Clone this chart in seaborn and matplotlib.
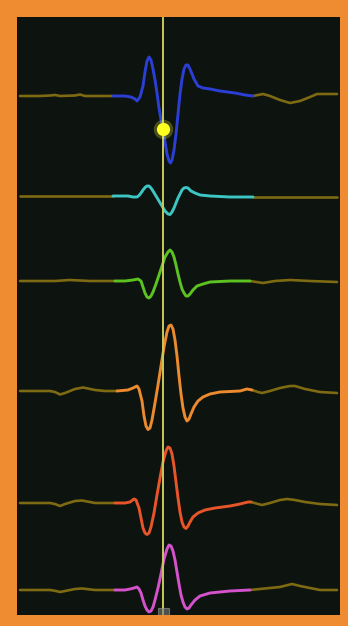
import numpy as np
import pandas as pd
import matplotlib
matplotlib.use("Agg")
import matplotlib.pyplot as plt
import seaborn as sns
from matplotlib.patches import Rectangle

# channel baselines (screen units, top = small) and colours
channels = ["ch1", "ch2", "ch3", "ch4", "ch5", "ch6"]
baselines = [96, 196, 281, 391, 503, 590]
colors = ["#2b3fd6", "#3cc6c4", "#5cc222", "#eb8a2e", "#e8552a", "#d452cc"]
base_color = "#7d6a12"

# colored window (start, end) per channel
win_start = [113, 113, 115, 117, 115, 115]
win_end = [253, 253, 250, 252, 251, 250]

# waveforms: time, amplitude (up = positive)
t1 = [20, 40, 50, 55, 60, 75, 80, 85, 113, 125, 131, 135, 137, 140, 143, 145, 147, 149, 151, 153, 155, 157, 159, 161, 163, 165, 167, 169, 170.5, 172, 174, 176, 178, 180, 182, 184, 186, 188, 190, 194, 198, 203, 210, 220, 235, 245, 253, 258, 263, 270, 280, 290, 300, 310, 317, 330, 337]
a1 = [0, 0, 0.5, 1, 0, 0.5, 1.5, 0, 0, 0, -1, -3, -5, -1, 10, 24, 35, 39, 36, 27, 16, 3, -12, -24, -33, -46, -58, -65, -67, -64, -54, -38, -18, 2, 17, 27, 31, 31, 27, 17, 10, 8, 7, 5, 3, 1, 0, 1, 2, 0, -4, -7, -5, -1, 2, 2, 2]

t2 = [20, 60, 90, 113, 128, 133, 137, 139, 141, 143, 145, 147, 149, 151, 153, 156, 159, 162, 165, 168, 170, 172, 174, 176, 178, 180, 182, 184, 186, 188, 191, 195, 200, 210, 230, 253, 290, 337]
a2 = [0, 0, 0, 0, 0, -1, -1, 0.5, 3, 6, 8.5, 10, 10, 8, 5, 0, -5, -10, -15, -18, -18.5, -16, -12, -7, -2, 2, 6, 8, 8.5, 8, 5, 3, 1, 0, -1, -1, -1, -1]

t3 = [20, 55, 70, 90, 115, 125, 133, 138, 141, 143, 145, 147, 149, 151, 153, 156, 159, 162, 165, 168, 170, 172, 174, 176, 178, 180, 182, 184, 186, 188, 190, 193, 197, 203, 210, 230, 250, 263, 275, 290, 310, 337]
a3 = [0, 0, 1, 0, 0, 0, 1, 2, 0, -6, -12, -16, -17, -15, -11, -3, 6, 15, 24, 29, 31, 29, 24, 16, 7, -1, -8, -12, -15, -15, -13, -9, -5, -3, -1, 0, 0, -2, 0, 1, 0, -1]

t4 = [20, 50, 55, 60, 65, 75, 83, 95, 105, 117, 128, 133, 137, 139, 142, 144, 146, 148, 150, 152, 155, 158, 161, 164, 167, 169, 171, 173, 175, 177, 179, 181, 183, 185, 187, 189, 191, 194, 198, 203, 210, 220, 240, 247, 252, 258, 262, 270, 280, 290, 295, 305, 320, 337]
a4 = [0, 0, -1, -3.5, -2, 2, 3.5, 1, 0, 0, 1, 3, 5, 2, -10, -25, -35, -38.5, -37, -29, -12, 6, 25, 44, 59, 65, 66, 62, 51, 35, 15, -3, -17, -26, -30, -28, -23, -16, -10, -6, -3, -1, 0, 2, 1, -1, -2, 0, 3, 5, 5, 2, -1, -2]

t5 = [20, 50, 55, 60, 65, 75, 82, 95, 115, 125, 130, 134, 136, 139, 141, 143, 145, 147, 149, 151, 154, 157, 160, 163, 166, 168, 170, 172, 174, 176, 178, 180, 182, 184, 186, 188, 190, 193, 198, 205, 215, 230, 240, 248, 251, 258, 262, 270, 280, 287, 295, 305, 320, 337]
a5 = [0, 0, -1, -3, -1, 2, 2.5, 0, 0, 0, 1, 4, 3, -5, -15, -25, -30, -31.5, -30, -24, -10, 8, 25, 41, 52, 56, 55, 49, 37, 21, 5, -9, -19, -24, -25.5, -23, -19, -14, -10, -7, -5, -3, -1, 1, 1, -1, -2, 0, 3, 4, 3, 1, -1, -2]

t6 = [20, 50, 56, 60, 65, 75, 82, 95, 115, 125, 130, 134, 137, 139, 141, 143, 145, 147, 149, 151, 153, 155, 158, 161, 164, 167, 169, 171, 173, 175, 177, 179, 181, 183, 185, 187, 189, 191, 195, 200, 210, 230, 250, 260, 270, 280, 292, 300, 310, 320, 337]
a6 = [0, 0, -1, -2, -1, 1, 1.5, 0, 0, 0, 1, 2, 3, 1, -3, -10, -16, -20, -22, -21, -17, -10, 2, 16, 31, 41, 45, 44, 39, 30, 18, 6, -5, -12, -17, -19, -18, -15, -10, -6, -3, -1, 0, 1, 2, 3, 6, 4, 2, 0, 0]

times = [t1, t2, t3, t4, t5, t6]
amps = [a1, a2, a3, a4, a5, a6]

# cursor
cursor_t = 163
marker_y = 129

rows = []
for ch, base, t, a, s, e in zip(channels, baselines, times, amps, win_start, win_end):
    for ti, ai in zip(t, a):
        seg = "pre" if ti < s else ("post" if ti > e else "win")
        rows.append({"channel": ch, "t": ti, "y": base - ai, "seg": seg})
        # duplicate boundary points so segments connect
        if ti == s:
            rows.append({"channel": ch, "t": ti, "y": base - ai, "seg": "pre"})
        if ti == e:
            rows.append({"channel": ch, "t": ti, "y": base - ai, "seg": "post"})
df = pd.DataFrame(rows)

sns.set_style("dark")
fig = plt.figure(figsize=(3.48, 6.26), dpi=100)
fig.patch.set_facecolor("#ef8b30")
ax = fig.add_axes([17 / 348, 11 / 626, 323 / 348, 598 / 626])
ax.set_facecolor("#0d130e")

for ch, col in zip(channels, colors):
    d = df[df.channel == ch]
    for seg in ["pre", "post"]:
        sns.lineplot(data=d[d.seg == seg], x="t", y="y", color=base_color, lw=1.9,
                     sort=False, estimator=None, ax=ax, legend=False,
                     solid_joinstyle="round", solid_capstyle="round")
    sns.lineplot(data=d[d.seg == "win"], x="t", y="y", color=col, lw=2.1,
                 sort=False, estimator=None, ax=ax, legend=False,
                 solid_joinstyle="round", solid_capstyle="round")

ax.axvline(cursor_t, color="#c9c95c", lw=1.4, zorder=5)
ax.plot([cursor_t], [marker_y], "o", ms=14, color="#ffff40", alpha=0.25, mec="none", zorder=6)
ax.plot([cursor_t], [marker_y], "o", ms=9.5, color="#ffff20", mec="none", zorder=7)
ax.add_patch(Rectangle((cursor_t - 5, 608), 11, 8, facecolor="#7a7a7a", alpha=0.6,
                       edgecolor="#9a9a9a", lw=0.8, zorder=6))

ax.set_xlim(17, 340)
ax.set_ylim(615, 17)
ax.set_xlabel("")
ax.set_ylabel("")
ax.set_xticks([])
ax.set_yticks([])
ax.grid(False)
for sp in ax.spines.values():
    sp.set_visible(False)

fig.savefig("out.png", dpi=100, facecolor=fig.get_facecolor())
